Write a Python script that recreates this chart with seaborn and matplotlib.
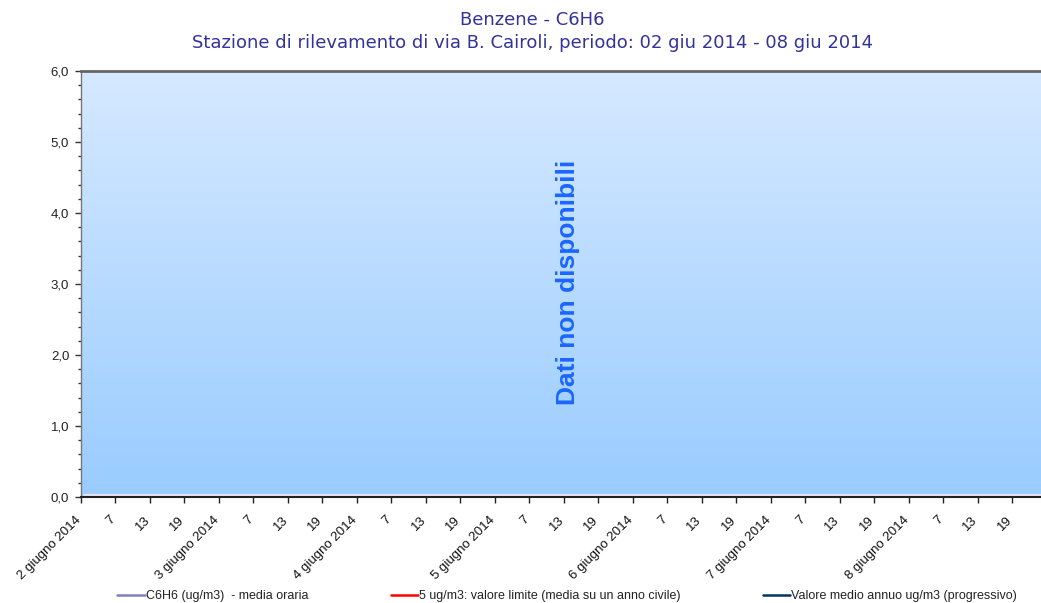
import numpy as np
import pandas as pd
import matplotlib
matplotlib.use("Agg")
import matplotlib.pyplot as plt
from matplotlib.lines import Line2D
from matplotlib.ticker import MultipleLocator, FuncFormatter
from matplotlib.transforms import ScaledTranslation
import seaborn as sns

# ---- data ----
title_line1 = "Benzene - C6H6"
title_line2 = "Stazione di rilevamento di via B. Cairoli, periodo: 02 giu 2014 - 08 giu 2014"
days = ["2 giugno 2014", "3 giugno 2014", "4 giugno 2014", "5 giugno 2014",
        "6 giugno 2014", "7 giugno 2014", "8 giugno 2014"]
hour_labels = ["7", "13", "19"]
hours = list(range(168))
c6h6_hourly = [np.nan] * 168          # dati non disponibili
limit_value = 5.0
annual_mean = [np.nan] * 168           # non disponibile
legend_labels = ["C6H6 (ug/m3)  - media oraria",
                 "5 ug/m3: valore limite (media su un anno civile)",
                 "Valore medio annuo ug/m3 (progressivo)"]
series_colors = ["#8080c0", "#ff0000", "#003366"]
no_data_text = "Dati non disponibili"
y_min, y_max = 0.0, 6.0

sns.set_theme(style="white")
plt.rcParams["font.family"] = ["Liberation Sans", "DejaVu Sans"]

fig = plt.figure(figsize=(10.41, 6.03), dpi=100)
ax = fig.add_axes([81 / 1041, 1 - 497 / 603, 1 - 81 / 1041, (497 - 71) / 603])

x_max = 167
ax.set_xlim(0, x_max)
ax.set_ylim(y_min, y_max)

# gradient background
grad = np.linspace(0, 1, 256).reshape(-1, 1)
top = np.array([0xd6, 0xe9, 0xff]) / 255
bot = np.array([0x99, 0xcc, 0xff]) / 255
img = top[None, None, :] * (1 - grad[:, :, None]) + bot[None, None, :] * grad[:, :, None]
ax.imshow(img, extent=[0, x_max, y_min, y_max], aspect="auto", origin="upper", zorder=0)

# series (no data available)
df = pd.DataFrame({"ora": hours, "C6H6": c6h6_hourly, "media": annual_mean})
valid = df.dropna(subset=["C6H6"])
if len(valid):
    sns.lineplot(data=valid, x="ora", y="C6H6", ax=ax, color=series_colors[0], lw=1)

# faint floor line
ax.plot([0.5, x_max], [0.035, 0.035], color="#e6e6f8", lw=1.6, zorder=2)

ax.text(84.8, 3.02, no_data_text, rotation=90, ha="center", va="center",
        fontsize=19, fontweight="bold", color="#1a66ff", zorder=3)

# spines
ax.spines["right"].set_visible(False)
ax.spines["top"].set_color("#666666")
ax.spines["top"].set_linewidth(2)
ax.spines["left"].set_color("#777777")
ax.spines["left"].set_linewidth(1)
ax.spines["bottom"].set_color("#222222")
ax.spines["bottom"].set_linewidth(1.5)

# y ticks
ax.yaxis.set_major_locator(MultipleLocator(1.0))
ax.yaxis.set_minor_locator(MultipleLocator(0.2))
ax.yaxis.set_major_formatter(FuncFormatter(lambda v, p: f"{v:.1f}".replace(".", ",")))
ax.tick_params(axis="y", which="major", direction="out", length=4.5, width=1,
               color="#333333", labelsize=9.5, labelcolor="#222222", pad=4, left=True)
ax.tick_params(axis="y", which="minor", direction="out", length=2.5, width=1,
               color="#333333", left=True)

# x ticks
pos, labs = [], []
for d, day in enumerate(days):
    pos.append(d * 24)
    labs.append(day)
    for k, hl in enumerate(hour_labels):
        pos.append(d * 24 + 6 * (k + 1))
        labs.append(hl)
ax.set_xticks(pos)
ax.set_xticklabels(labs, rotation=45, ha="right", va="center", rotation_mode="anchor")
ax.tick_params(axis="x", which="major", direction="out", length=4.5, width=1,
               color="#222222", labelsize=9.5, labelcolor="#111111", pad=10, bottom=True)
shift = ScaledTranslation(-2 / 100, -1 / 100, fig.dpi_scale_trans)
for lbl in ax.get_xticklabels():
    lbl.set_transform(lbl.get_transform() + shift)
ax.grid(False)

# titles
fig.text(532 / 1041, 1 - 20 / 603, title_line1, ha="center", va="center",
         fontsize=13, color="#333399", family="DejaVu Sans")
fig.text(532 / 1041, 1 - 43 / 603, title_line2, ha="center", va="center",
         fontsize=13, color="#333399", family="DejaVu Sans")

# legend
handles = [Line2D([], [], color=c, lw=1.8) for c in series_colors]
leg = fig.legend(handles, legend_labels, loc="center", ncol=3,
                 bbox_to_anchor=(567 / 1041, 1 - 596 / 603), frameon=False,
                 fontsize=9, handlelength=2.2, handletextpad=0.05,
                 columnspacing=6.6, borderaxespad=0)
for t in leg.get_texts():
    t.set_color("#222222")

fig.savefig("out.png", dpi=100)
